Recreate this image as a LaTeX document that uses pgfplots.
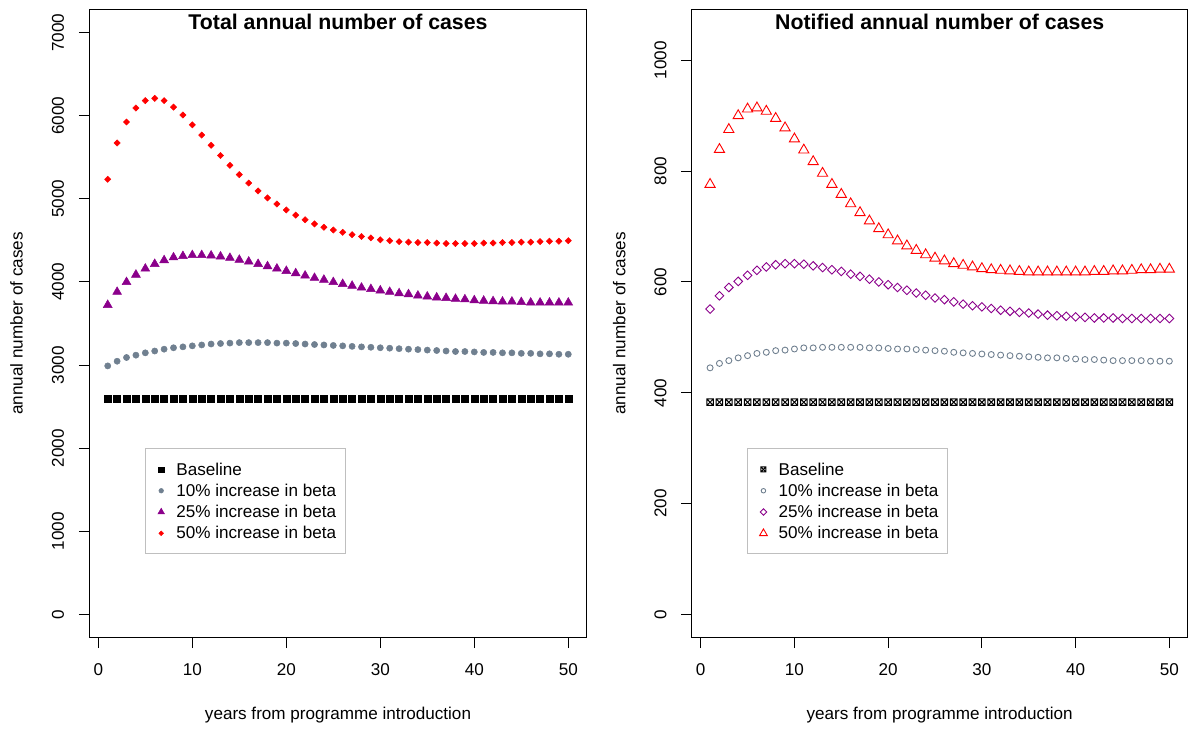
\documentclass[border=0pt]{standalone}
\usepackage{pgfplots}
\pgfplotsset{compat=1.18}
\usepackage{pgfplotstable}
\usepackage{fontspec}
\setmainfont{Liberation Sans}
\definecolor{sgray}{HTML}{708090}
\definecolor{dmag}{HTML}{8B008B}
\pgfdeclareplotmark{boxx}{%
  \pgfpathrectangle{\pgfqpoint{-\pgfplotmarksize}{-\pgfplotmarksize}}{\pgfqpoint{2\pgfplotmarksize}{2\pgfplotmarksize}}%
  \pgfpathmoveto{\pgfqpoint{-\pgfplotmarksize}{-\pgfplotmarksize}}\pgfpathlineto{\pgfqpoint{\pgfplotmarksize}{\pgfplotmarksize}}%
  \pgfpathmoveto{\pgfqpoint{-\pgfplotmarksize}{\pgfplotmarksize}}\pgfpathlineto{\pgfqpoint{\pgfplotmarksize}{-\pgfplotmarksize}}%
  \pgfusepathqstroke}

\pgfplotstableread{
x base g p r
1 2590 2990 3723 5235
2 2590 3046 3880 5672
3 2590 3091 3998 5924
4 2590 3119 4087 6092
5 2590 3147 4160 6181
6 2590 3169 4216 6209
7 2590 3191 4261 6181
8 2590 3208 4295 6103
9 2590 3219 4311 6008
10 2590 3231 4322 5890
11 2590 3242 4322 5767
12 2590 3253 4317 5644
13 2590 3259 4306 5521
14 2590 3264 4289 5403
15 2590 3270 4266 5291
16 2590 3270 4244 5190
17 2590 3270 4216 5095
18 2590 3270 4188 5011
19 2590 3264 4160 4938
20 2590 3264 4132 4866
21 2590 3259 4104 4804
22 2590 3253 4076 4748
23 2590 3247 4048 4698
24 2590 3242 4026 4658
25 2590 3236 3998 4625
26 2590 3231 3975 4597
27 2590 3225 3953 4569
28 2590 3219 3931 4547
29 2590 3214 3914 4530
30 2590 3208 3897 4507
31 2590 3203 3880 4496
32 2590 3197 3863 4485
33 2590 3191 3852 4479
34 2590 3186 3835 4474
35 2590 3180 3824 4474
36 2590 3175 3813 4468
37 2590 3169 3807 4462
38 2590 3163 3796 4462
39 2590 3163 3790 4462
40 2590 3158 3779 4462
41 2590 3152 3774 4468
42 2590 3152 3768 4468
43 2590 3147 3763 4474
44 2590 3147 3763 4474
45 2590 3141 3757 4479
46 2590 3141 3751 4479
47 2590 3135 3751 4485
48 2590 3135 3751 4490
49 2590 3130 3751 4490
50 2590 3130 3751 4496
}\lefttab

\pgfplotstableread{
x base g p r
1 383 445 551 776
2 383 453 575 839
3 383 458 590 875
4 383 463 601 900
5 383 467 612 912
6 383 471 621 914
7 383 473 627 908
8 383 476 631 895
9 383 477 633 878
10 383 479 633 858
11 383 481 632 838
12 383 481 629 817
13 383 482 626 796
14 383 482 622 776
15 383 482 619 758
16 383 482 614 741
17 383 482 610 725
18 383 481 605 710
19 383 481 600 696
20 383 480 595 685
21 383 479 590 674
22 383 479 585 665
23 383 478 580 657
24 383 477 576 649
25 383 476 571 643
26 383 475 568 638
27 383 473 564 633
28 383 472 560 630
29 383 471 557 627
30 383 470 555 624
31 383 469 552 622
32 383 468 549 621
33 383 467 547 620
34 383 466 545 619
35 383 465 544 618
36 383 464 542 618
37 383 463 540 618
38 383 463 539 618
39 383 462 538 618
40 383 461 537 618
41 383 460 536 618
42 383 460 535 619
43 383 459 535 619
44 383 458 535 620
45 383 458 534 620
46 383 458 534 621
47 383 458 534 622
48 383 457 534 622
49 383 457 534 623
50 383 457 534 623
}\righttab

\pgfplotsset{
  rstyle/.style={
    anchor=south west, scale only axis, height=628.4pt,
    xmin=-0.96, xmax=51.96,
    xtick={0,10,20,30,40,50},
    tick align=outside, tick pos=left,
    major tick length=10.5pt,
    axis line style={line width=1pt},
    every tick/.style={black, line width=1pt},
    tick label style={font=\fontsize{17.1}{20}\selectfont, inner sep=0pt},
    /pgf/number format/assume math mode=true,
    /pgf/number format/1000 sep={},
    scaled ticks=false,
    xticklabel style={anchor=north, yshift=-15.1pt},
    yticklabel style={xshift=-14.5pt, rotate=90, anchor=south},
    label style={font=\fontsize{17.1}{20}\selectfont, inner sep=0pt},
    xlabel style={at={(axis description cs:0.5,0)}, anchor=base, yshift=-81.8pt},
    ylabel style={at={(axis description cs:-0.1339,0.5)}, anchor=base},
    title style={at={(axis description cs:0.5,1)}, anchor=north, yshift=-10.2pt, inner sep=0pt, font=\bfseries\fontsize{21.3}{25}\selectfont},
    legend style={at={(axis description cs:0.112,0.3014)}, anchor=north west,
      draw=gray!50, line width=1pt, inner xsep=9.2pt, inner ysep=10pt,
      font=\fontsize{17.1}{21}\selectfont, row sep=0pt,
      nodes={inner sep=0pt, text height=16.3pt, text depth=5pt}},
    legend cell align=left,
    legend image code/.code={\draw[##1] plot coordinates {(0pt,0pt)};\path[draw=none,fill=none] (-6.5pt,0pt) -- (15.2pt,0pt);},
    legend image post style={every mark/.append style={scale=0.75}},
    xlabel={years from programme introduction},
    ylabel={annual number of cases},
  }
}

\begin{document}
\begin{tikzpicture}
\useasboundingbox (0pt,0pt) rectangle (1197pt,729pt);
\begin{axis}[rstyle, at={(89.3pt,91.3pt)}, width=497.4pt,
  ymin=-280, ymax=7280, ytick={0,1000,2000,3000,4000,5000,6000,7000},
  title={Total annual number of cases}]
\addplot[only marks, mark=square*, mark size=3.5pt, black, line width=0.5pt] table[x=x,y=base]{\lefttab};
\addlegendentry{Baseline}
\addplot[only marks, mark=*, mark size=3.1pt, sgray, line width=0.5pt] table[x=x,y=g]{\lefttab};
\addlegendentry{10\% increase in beta}
\addplot[only marks, mark=triangle*, mark size=5.1pt, dmag, line width=0.5pt] table[x=x,y=p]{\lefttab};
\addlegendentry{25\% increase in beta}
\addplot[only marks, mark=square*, mark size=2.2pt, mark options={rotate=45}, red, line width=0.5pt] table[x=x,y=r]{\lefttab};
\addlegendentry{50\% increase in beta}
\end{axis}
\begin{axis}[rstyle, at={(691.7pt,91.3pt)}, width=496pt,
  ymin=-42, ymax=1092, ytick={0,200,400,600,800,1000},
  title={Notified annual number of cases}]
\addplot[only marks, mark=boxx, mark size=3.3pt, black, line width=1pt] table[x=x,y=base]{\righttab};
\addlegendentry{Baseline}
\addplot[only marks, mark=o, mark size=3pt, sgray, line width=0.9pt] table[x=x,y=g]{\righttab};
\addlegendentry{10\% increase in beta}
\addplot[only marks, mark=square, mark size=3.05pt, mark options={rotate=45}, dmag, line width=0.9pt] table[x=x,y=p]{\righttab};
\addlegendentry{25\% increase in beta}
\addplot[only marks, mark=triangle, mark size=5.9pt, red, line width=0.9pt] table[x=x,y=r]{\righttab};
\addlegendentry{50\% increase in beta}
\end{axis}
\end{tikzpicture}
\end{document}
